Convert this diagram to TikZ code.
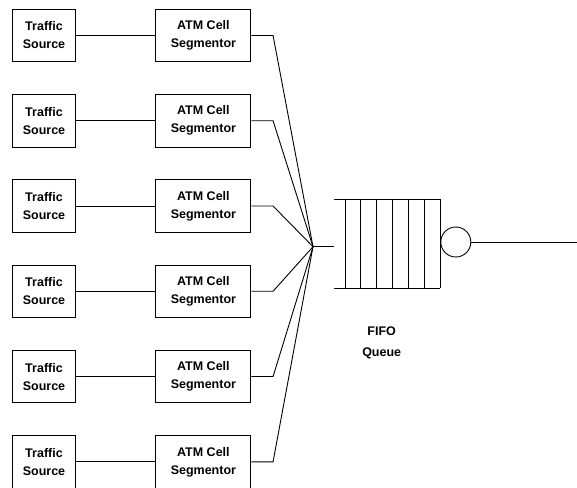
\documentclass[tikz,border=0pt]{standalone}
\usepackage{fontspec}
\setmainfont{Liberation Sans}
\usetikzlibrary{positioning}
\tikzset{
  srcbox/.style={draw, line width=0.9pt, align=center, inner sep=0pt,
    minimum width=62.6pt, minimum height=52.4pt,
    font=\bfseries\fontsize{12.5}{18}\selectfont},
  segbox/.style={srcbox, minimum width=95pt},
  wire/.style={line width=0.9pt},
  server/.style={circle, draw, line width=0.9pt, minimum size=30pt, inner sep=0pt},
  lbl/.style={align=center, font=\bfseries\fontsize{12.5}{21}\selectfont}
}
\begin{document}
\begin{tikzpicture}[x=1pt, y=-1pt, node distance=31.96pt and 79.7pt]
  \useasboundingbox (0,0) rectangle (577,487);
  % sources and segmentors
  \node[srcbox] (src1) at (44,35.5) {Traffic\\Source};
  \node[srcbox, below=of src1] (src2) {Traffic\\Source};
  \node[srcbox, below=of src2] (src3) {Traffic\\Source};
  \node[srcbox, below=of src3] (src4) {Traffic\\Source};
  \node[srcbox, below=of src4] (src5) {Traffic\\Source};
  \node[srcbox, below=of src5] (src6) {Traffic\\Source};
  \node[segbox, right=of src1] (seg1) {ATM Cell\\Segmentor};
  \node[segbox, right=of src2] (seg2) {ATM Cell\\Segmentor};
  \node[segbox, right=of src3] (seg3) {ATM Cell\\Segmentor};
  \node[segbox, right=of src4] (seg4) {ATM Cell\\Segmentor};
  \node[segbox, right=of src5] (seg5) {ATM Cell\\Segmentor};
  \node[segbox, right=of src6] (seg6) {ATM Cell\\Segmentor};
  % merge point and queue
  \coordinate (merge) at (313,246.7);
  \coordinate (qin) at (334,246.7);
  \draw[wire] (334,199) -- (440,199) (334,288.3) -- (440,288.3);
  \foreach \x in {345,360.8,376.7,392.5,408.3,424.2,440}
    \draw[wire] (\x,199) -- (\x,288.3);
  \node[server] (srv) at (455.8,242) {};
  \coordinate (out) at (577,242);
  \node[lbl] (fifo) at (381.7,342.5) {FIFO\\Queue};
  % connectors
  \foreach \i in {1,...,6} {
    \draw[wire] (src\i) -- (seg\i);
    \draw[wire] (seg\i.east) -- ++(21.7,0) -- (merge);
  }
  \draw[wire] (merge) -- (qin);
  \draw[wire] (srv) -- (out);
\end{tikzpicture}
\end{document}
